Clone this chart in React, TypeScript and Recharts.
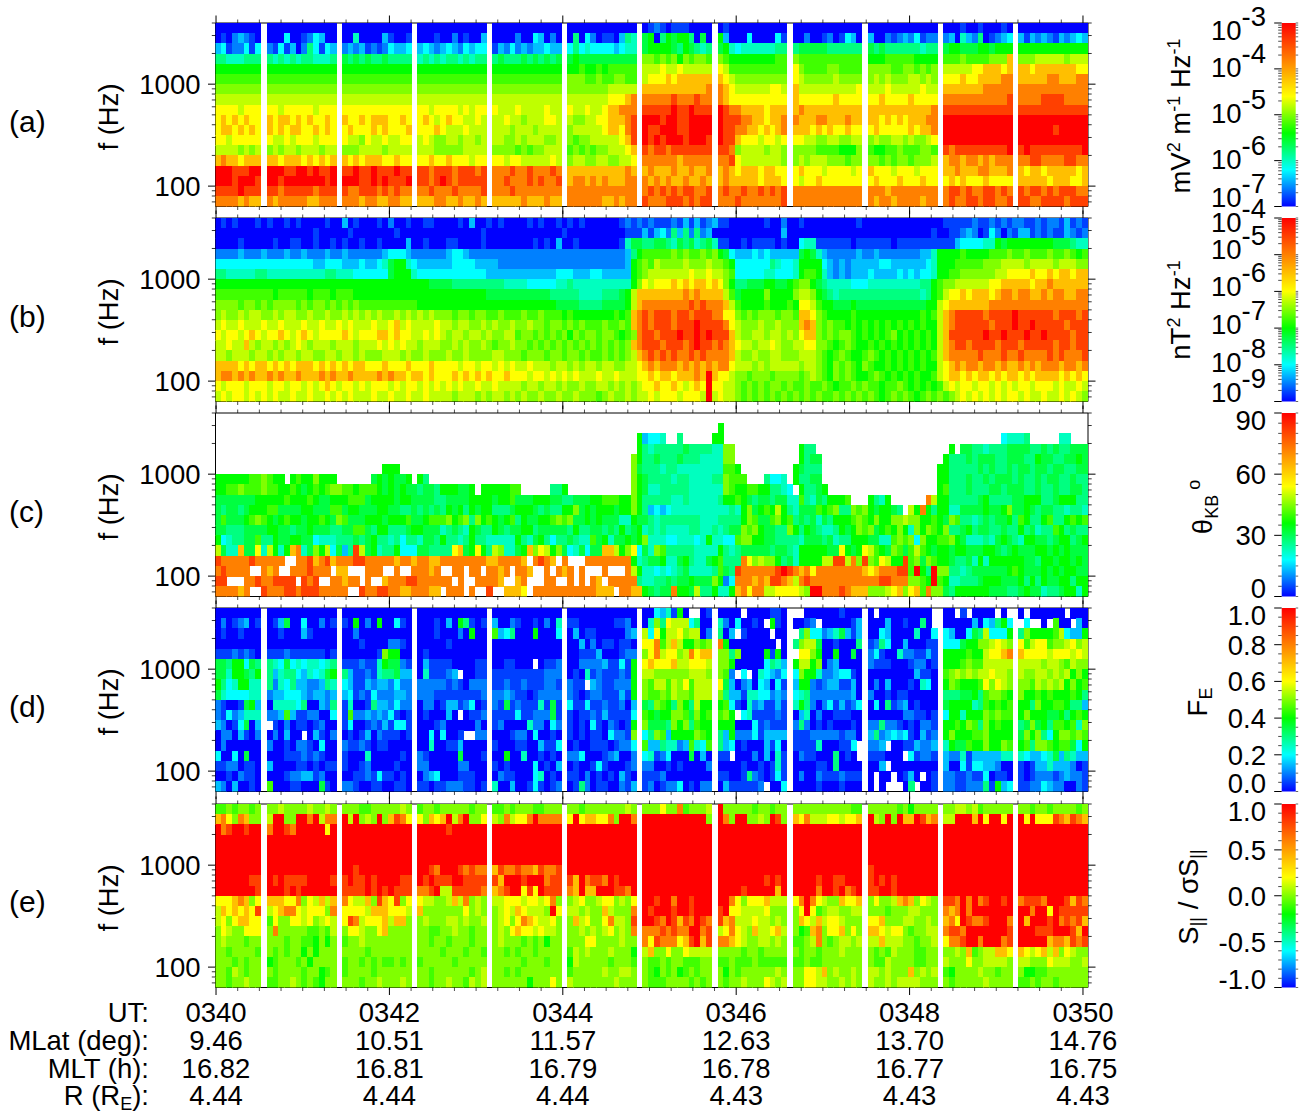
import { ComposedChart, ReferenceArea, Scatter, XAxis, YAxis } from 'recharts'

// frequency bins (Hz), top row first, one tenth of a decade each
const bandCentersHz = [3548, 2818, 2239, 1778, 1413, 1122, 891, 708, 562, 447, 355, 282, 224, 178, 141, 112, 89, 71]

const freqTicks = [70, 80, 90, 100, 200, 300, 400, 500, 600, 700, 800, 900, 1000, 2000, 3000, 3981]
const freqLabels = [100, 1000]

const minuteTicks = [0, 0.25, 0.5, 0.75, 1, 1.25, 1.5, 1.75, 2, 2.25, 2.5, 2.75, 3, 3.25, 3.5, 3.75, 4, 4.25, 4.5, 4.75, 5, 5.25, 5.5, 5.75, 6, 6.25, 6.5, 6.75, 7, 7.25, 7.5, 7.75, 8, 8.25, 8.5, 8.75, 9, 9.25, 9.5, 9.75, 10]
const utLabels = ['0340', '0342', '0344', '0346', '0348', '0350']
const mlatLabels = ['9.46', '10.51', '11.57', '12.63', '13.70', '14.76']
const mltLabels = ['16.82', '16.81', '16.79', '16.78', '16.77', '16.75']
const rLabels = ['4.44', '4.44', '4.44', '4.43', '4.43', '4.43']

// Colour levels per cell: 0-9a-g runs blue -> red, '.' is no data.
// Rows top to bottom, blocks split by the data gaps (or every 13 columns where there are none).
const electricRows = [
  '00000000 000000000000 000000000000 000000000000 000000000000 000000000000 012101110000 010000000000 000000000000 000000000000 000100100010 000000000000',
  '01023210 000400124300 005000031001 000100201003 000020043020 060420110365 780687886070 830004000041 002001201430 300212324122 230532601234 313232132343',
  '34122414 214130264143 232312124334 343234324344 132423233433 464544443455 788887687656 785455555566 677777666666 767666666566 788777887888 888888888888',
  '66555666 656565665556 767676676666 565656656566 676667676767 787777777777 aa9a9a8a9aa9 a98888888899 a99999999999 888999998888 999a9999aaad aaabbbbbabbb',
  '88888888 888888888888 888888888888 888888888888 888888888888 889889899999 bbbcbbcbbbbb cb9999999999 ca9999aa9999 aaaa99aa9a9a bbbbbccdddcd ddcdddddddcc',
  '99999999 999999999999 999999999999 999999999999 999999999999 aaa99a99aa99 bcccdcdddddd dcbaaaaaaaaa cbaaaaabaaaa ababaaabbaba cccdccddddee dddddeedddee',
  'aaaaaaaa aaaaaaaaaaaa aaaaaaaaaaaa aaaaaaaaaaaa aaaaaaaaaaaa aaaaaaabbbbb ddddddddddde edcbbbbbbccb dbbbbbbbbbbc bbbcbbbbbcbb dddddddeeeee eeeeeeeeeeee',
  'bbbbbbbb bbbbbbbbbbbb bbbbbbbbbbbb bbbbbbbbbbbb bbbbbbbbbbbb bbbbbbbcccde eeeeefeeefee edcccccccccc dccccccdcccc ccdccccdcccc eeeeeeeeeeef eeeeffffeeee',
  'ccccbccc ccbcccccbccc cccccccccccc ccbccccbcbcc cbbbcbbbbcbb cbbcbbcddeee fffffgffgfff gfeeddddcddd dedddddddddd ddddddddddde ffffffffffff ffffffffffff',
  'cdcdcdcc dcddcdcdccdc dccdcdddccdc cdcbcdccbbcb bbcbbabbbccb baabbccdddef gggfggffgggg gfffeeddcdde edddeedddedd ddcdcdcdddee gggggggggggg gggggggggggg',
  'cddcdcdc dcdcddccdcdc cdcccdcdcccd cccdcbbbcbbb bbbabbbabbbb abbbbbcddcef gffgggffgggg gffeeddcdcde dddcdcdccdcc cdcccccdcdde gggggggggggg ggggggfggggg',
  'ccbccccc cbbcbcccbccc cbbacbbcbbcc bcbaabbabbab bbaababbbaab a9aabbbbbcdf gfgfgggfgggf gffdcccbccbc ccbbaabbaabb abaabbabaabc gggggggggggg gggggggggggg',
  'bbbbabab ababbabbbabb aaabbbbabbbb bbbaaaaabbbb aaaa9a9aabbb 9a9a9aabbbcd feffefffffff ffeabbbbabba aaaa9999888a 98899a999aa9 fefffffffffg fgfffffffffg',
  'deddcddd ddcdddcdcdcd dcdcdddccdcc ccdccdcccbcc ccbccbbbbbcb abbaabbaabbc eeeeeedeeeee eefcbbbbbbba ababbbaaa9aa aa9a9aa9aaab deedeededeee eeffeeeeffee',
  'gggfffgg gggffggfgffg ffgffgfffgff ffefffefffef eeefeefeeefe dddddddddded dedddeddedde dedcdddcddcc cdcccbccccbc dcccbcccbccc ddedddeeddde dcddcdddddcd',
  'gggfgggf ggfgggggggfg gggffgfgfffg ffefgfefffff eefeeefefeef deedededddee edededdedded dedddddcdddc cbccdccccccc cdcccdcccdcc cdcdcccdcccc dddddcdddccd',
  'ffffgfff ffefffffefff feefffefefee eefeeefeeeef eeefeeeeeeee eeeeeeeeeeee efefefeffeef efeefeefefef eeeeeeeeeeee eeedeeeeeeee effefeeffefe feffefefffee',
  'eeeededd edeeeeeddeee eeedeeddeedd dddeeddedded dddddedddedd eeeeeeddedee feeefffefeff eeefeeeeeeef eeeeeeeeeeee edeedeeeedee efeeffeffeef ffeeffffefff',
]

const magneticRows = [
  '0101000101001 0100001003010 0010200100110 0001030010100 0010100101010 0000012121211 1213131231100 0000100200100 0000000100000 0000000001111 1211212122112 12213121',
  '0000000000000 0000100000100 0000010000000 0000000100000 0000000010000 0000001113134 2636262300000 0000000300000 0000000000000 0000000100112 3201420213312 12113212',
  '0000100000100 1100100101001 0010000300100 0110000100000 0001010300100 0000015776677 6576756751100 1011110100455 1111110111111 0111111111134 4445587888888 88777655',
  '2222322232223 2232223223222 2223444322222 2344322222222 2222222222222 2222223689999 9a9a99a9a8743 3343433333787 5322222322322 2222233588889 8888999a99a99 9a99a989',
  '4444444444444 4444334443334 3345788543333 3344443333222 2222222222222 222222389a9ba aaabaaabaa984 4444465445888 8432323333344 3333334588899 999aaabbbbabb bbabbbaa',
  '6655555665555 5555556655544 4444788854444 4444444433333 3333333444333 443333389abbb bbbbcbbcbba94 4444554445899 8532323334333 343434458899a aaaaabbccccdc cdcddcdd',
  '8888888888888 8888888888888 8888888888877 7766666666655 5544444556555 55555558acbcc cdcdcddcdca86 6777887789aa8 7655554445555 555556689aabb bbbbccdddddcd dedddddd',
  '9999999999899 9998999899988 8888888888888 8888888877777 7777776666655 5566678bddddd dddededdddb97 8888a8888abba 8765666666666 666665689bccd cdddcdeedeedd edeeddee',
  'aaaa9aa9a9aaa a9a9aa9a9a9a9 9999999998888 8888888888888 8888888777766 6677778bdeeee eeeefefeeedb9 8888988898ccb 9887778777777 77777788bcddd ddddeeeeeeeee eeeeeeee',
  'abaababbaabab baabaabaababa babaababababa aa9aa9aa99a99 9a99a99989888 8888989defeff feffefffeecca 9a9aaa9aa9ddc a988889888888 88888989bdeff fffeffffgffff ffefffef',
  'bcbbcbbbcbbcb bbcbbcbbcbcbb bcbbcdbcbbbbc bbabbaababaab aabaa9aa9a9a9 99a99a9defeff fefffgffffecb aaabaabaaaded a9a9989898989 89898988bdeff ffffefffgffgf ffffefff',
  'cbccbcdcbccdc bcdcbccccdcbc ccddcdccbbcbc babbabbabaabb 9aa9a9a9a8a9a a9aa989aeffef ffgffgfgfffdb aabbabbabacdd a9a9aa9898989 a8989898bdfff fffgffgfffgff gffffeff',
  'bbcbbdbabbaba bcbabbbabbbab bbcbcbcbbabbb aababaaba9aab aa9a9a9a9a9a9 a9a9a9adefffe fffefgffefedc bbabbcbaabbcc aa989a9889898 98989898bdeff effffefffefff ffeffeff',
  'bbabbbabbabab babbaabbabbab aaabbbabaabaa abaabaaaabbaa a9aaa9aa9aa9a 99a9a9abdefef efeefefeeeedb aabaabbaaabbb a989a9889a989 89898989bdeee eefeeefeefeee efefeeef',
  'ddddcdcddcdcd cdddcdcdcdcdd cccdcccdcccdc cccbccbccbcbc bbcbbbabbabab babbaabbcdede eededededeecb bbababbbbbabb a98a9a98a9889 89898988bcded eedeededdeded eeedeede',
  'deedededdeded dedddededdedd ddededdcddcdc ccdcdcdcdccdc ccbccbcbcbcbb bcbbcbbbccdcd dcdddedgdccba a9aaa9aaaa9ab a98a9a9889a98 98989889bcddc dcddcdcddcdcd dddcdcdc',
  'cbcccbcccbccb ccbcbcdcbccbc bcccbcbccbcbc bcbcbbcbbcbbb babbabbabaaba abbabababccdc cdcbcdcgccbba 9a9a9aa9a99a9 9a9899a9a9989 9a9898989bcbc cbccbcbcbccbc ccbcbbcb',
  'bcbccbcbcbcbb cbbcbbcbcbcbb bcbbcbbcbbcbb bbabbbababbab abaabaabaabaa a9abaababbcbc ccbcccbgbcbba 9a9a9a9a9a9a9 a99a9a9a9a989 a9a989a9a9abc bcbcbcbccbcbb cbbcbcba',
]

const waveAngleRows = [
  '............. ............. ............. ............. ............. ............. ............. ............. ............. ............. ............. ........',
  '............. ............. ............. ............. ............. ............. .........8... ............. ............. ............. ............. ........',
  '............. ............. ............. ............. ............. ........83445 ..6.....88... ............. ............. ............. ......45556.. ...55...',
  '............. ............. ............. ............. ............. ........86566 6667666655aa. ..........866 ............. ..........8.7 7665666777766 76766777',
  '............. ............. ............. ............. ............. .......a86676 6676665555aa. ..........867 7............ .........8666 7677766777668 77667787',
  '............. ............. ...888....... ............. ............. .......a76665 6655555555998 .........8766 6............ ........88666 6676766767767 76776677',
  '88888899a988. 8988a888..... .7878778.86.. ............. ............. .......a87666 6566555566a99 9...6445.8667 7............ ........88666 7667677767667 67766766',
  '8899a999a9988 9878989aa9989 9987878776776 888778.888889 9.....668.... .......a87556 6666555555a98 899886654.866 78........... ........89666 7666776777667 66766776',
  '7777777888889 8889877888999 7888878877776 6777788887889 7778887766777 8899988a86666 6556555556889 8767767755965 768889...8658 ......eb88666 6678666677888 66788866',
  '7677678889977 7788777997887 7788776676767 6878687886667 8887676688a78 7888788a86343 4555555555565 8a7898b865777 989a66a9a8788 76.b8e8688557 7778778a77876 77665665',
  '7977789a98789 88788987a9777 8887888977899 9a89a6a898789 6877889a9a778 7877755877656 6666665556666 8a9779a896767 5768889a98a88 aabaa88987a96 6567677869866 89668989',
  '7766677778877 6778777667799 7688666788777 5676587668767 7886777776866 7767686785656 5555665565677 a9a87766a8687 6556878a9a789 8a85a8a98a667 8677667668675 66986766',
  '8456677966877 8877455566676 7866564665776 8665686655555 8657864667655 978577878a555 4455545855449 aa88776666577 7675668887755 9a9a4a8899a87 5556578765887 76788678',
  'b755d77c5b858 de57a8b4736fb 7856684447766 66cd78c86ba55 78dacb8a74574 77ddb8ac475a9 6666655558656 7777767765888 8877c878cb987 a979b98788788 7778876787778 87878777',
  'feeeeefeeeee. .eefdefdeeeff eeeeedeedeedd eeeeeeeeddeee ed.efed.e...e eeeeeee856778 5578655789666 ecabaa8675888 8bbffbeafa9cb 88f9a7a988766 7585888888776 88788787',
  'efeeee..ede.. eeefeee.dd... eee..e..eeede ..ee.ee.eede. eed..e.ede.e. ..e...eb85545 456755556976f eeeeeefgfedec eeeeeeeedcdee eff9g86gaa665 6777777898777 87878877',
  'ff...eefeefff f.fef..eedee. e..deeeffeeee ee.e..eeeed.. de...ee..e.e. ed.eeeee65566 76778777a824e eededffedbefe eeeeeeeeeeeff eeeaa98g98556 6678887778686 87788688',
  'eeeede..feeef fefffeeeee..f eeffeeddeeedd .eee.e..f..dd dc.eeeeeeeeee eddd.eedd8767 7e887b668558d eceebbccccbag geeefedddaaab cdacd9eaa7688 8888777667877 56678858',
]

const energyFractionRows = [
  '00000000 000000000000 000000000000 000000000000 000000000000 000000000000 00435180..01 0000.0000110 ..0000001000 0.000000000. 00.1.0000.0. 0.000000.000',
  '02012301 013700400201 108020800410 000103086101 300210010205 110000001120 05a6cbbb4600 52040010.810 0012.0000013 00030010060. 000003043684 .4..0.900.30',
  '01001000 001000310000 002000000000 000100020800 934600080004 030110000023 b4c8bbcabb02 603.10000.00 .6a442357313 004300005004 4300476b4448 6a88889b4338',
  '00000000 000000000000 000100002210 000001000000 000000000000 003020110110 cce9bdb88a9a e800000000.0 6abb70010006 126400300011 444788aabcba c9bcc9aabcab',
  '11121210 111211111101 0000001a8800 010000000000 000000000000 001113000122 acebccabecdd aa6a00008180 .cca80080070 241005221131 8888988bccde dccccbcccbcb',
  '77688476 654745455456 111211587721 031111000011 0011000.0112 002222311418 cdcccdbbcccb aa8000004653 8bb8a0230000 211100012201 8889a99bbbbb bbbbabba9baa',
  '77588768 635664354578 631121566733 0511123.0011 111111111222 010512111218 bbaaaaaabbba a92.4.054324 4a8852234410 000000003110 9abababbcbba baabbabab8a8',
  '86458855 625463322365 431132332422 222221210222 112112111221 211.32112228 a9bb9bac9bbb c73023043041 388212331130 020300010540 8a98889cacba aa9babab8a89',
  '75444455 233444323323 341214222332 222111111112 223211012222 210122111318 a99a9baa9bbb a63315544232 456222222230 200101100000 66677869aa98 a88989888986',
  '21001783 055554600326 150016332422 022013312401 217121115171 411411211203 76a986a86b88 894105231131 586202413124 040612301000 788885698989 886a88998663',
  '21423555 223931122004 192232324101 0100030.0112 111141122271 101121311114 98788aa97a89 9a8.45111121 035020011100 000000221101 4885888a9a99 8a8887786898',
  '32014703 .102011012006 140012131441 000120000020 120000522042 101041021018 a7776a8a6988 888000412111 262010100010 226221010221 8898a96a8988 67a78699895a',
  '02203102 020300.03102 010130211101 00404001..22 000122040010 10101104221a 46a938888a98 638222413333 111222221220 362343410312 8a88899a8888 7a8a648aa9a9',
  '02000000 200102210400 211210110000 005001130000 100011003114 010011101224 933655239549 634010003140 11115000114. 223.00113223 5877988a88a9 896aa9899748',
  '40040700 000111212100 100050000010 210000070001 008005001010 224000123002 451240007030 11.000203051 02110006010. 111000.41221 322513333355 543345736533',
  '11220110 300001101011 100120000100 220000022000 101000040103 010014100012 220010100002 000010010151 000011060000 003.00000000 300414433200 101335333201',
  '00102110 000122331200 001121411010 023400011100 021100045010 110201010310 111200000000 110016210141 020021112111 0.00.0130.01 221121140110 101222123221',
  '32030010 900011000710 221001100110 110112221101 500300141012 016201100213 120122401022 03111112.004 000010001000 0.0...06.001 221122261834 112243220021',
]

const allRedRow = 'gggggggg gggggggggggg gggggggggggg gggggggggggg gggggggggggg gggggggggggg gggggggggggg gggggggggggg gggggggggggg gggggggggggg gggggggggggg gggggggggggg'

const poyntingRows = [
  '99a9aa9a aabaaaabaaba aaa99aaaaaba 9aa9aaaaa9aa 99a9aaa99aaa aa9aaaaaaaba aaacaae9aaab gaaaaa9aa9aa aaaaaaaaaa99 aaaaa9a8aaaa aabbab9aaaaa aa9aa9aaaa9a',
  'decaedaa bggaaggegbee gbgabagadfec cadcdgbegaac baebccegeeee cgcddcceagge ggggggggggga geaggaabagfa dcebbbccbccd gbagagddgfde bbgggdgcggcg gcgcccfedfed',
  'gefggfgg eggfegggggcg gggggggggggg gggggfgggggg gggggggggggg gggggggggggg gggggggggggg gggggggggggg gggggggggggg gggggggggggg gggggggggggg gggggggggggg',
  allRedRow,
  allRedRow,
  allRedRow,
  'gggggggg gggggggggggg ggfggggggggg ggfegggfefee dfeefeedfeef gggggggggggg gggggggggggg gggggggggggg gggggggggggg fggggggggggg gggggggggggg gggggggggggg',
  'ggggggff gfgffffggggf fgffgfggggff gfgfffggffff fdgggfgggeff fdgeffegfggg gggggggggggg ggggggggfgfg ggggfggffggg fgfgfggggggg gggggggggggg gggggggggggg',
  'gggggggf gggfgfgggggg ffffgfgfgfff eefgbbfffffe defggcfcgfff edgddgggffeg gggggggggggg ggggfgggggdg ggggeggfgefg ffggfggggggg gggggggggggg gggggggggggg',
  'cccdedac dddcceacbdbd ecbbdafdcfac cbbaabdbeaba bbcccbccbcea abcaabccabac ggfggeggfggg ggecacccdbbb cegecbaadccd acaabdedacba ffegegefggfg efffegggfdfe',
  'bdcdcdcf bcdeecbcccae ccccbdddcccb daaaaaaacaba abcbdcbbbagc bbabaadbaaae gfgggfggfggg fgccbbbbcaaa acgc9abbaabb aaa9aaabbaaa edegeggggggg ggeggcgfffff',
  'bcacddcc 9caaccbcabcb cfebcccdbdda abaaabbabaab abcacedcbbca adbcaacebbaf ggfegfdfegfe fdebbbcbbaba adcbdbccbaaa ccdaaabbaaba decgfeefggge gdgggfgefefd',
  'acbaaccc aeaaaaa99a9b accbaacdaaaa aa99aabaa9aa abacdccbcbba aabababcabae eeefefeeggef bcecbadbbcdb a89deaccdaca ddcbcca9aabb effegggggggf gggfffgggfdg',
  'abaaa9aa aaa9aa998a8a 9aabaaaaaaaa aa9aa9aaa9aa abaaa9a9a8aa aaaccaaaabaa ecfeeecdfgdf eedcbaabbaba 99abea9abbab bbdbbbaa9aab ceefggegggef gggggdeedfef',
  'aa9aaaa9 a9a9aa8a8aaa aaaa9aaaaaaa aaaa9aaa9aa9 aa9a9aa9aaaa 9babaaabaaa8 bdaacaacbbbb aaaa9aa9aaaa a9aa9aaabaaa a9a9baaa99aa aabad9abbddc dcbcdbdacbaa',
  'aaa9a9aa 89aaa9a8aaaa 9aa9a9a99a9a 9aaaaa9aaaaa aaaaa9aaa9aa 8baaaaa9aaa9 a99a9aa999aa 99a999a99999 99a99aaaaaaa a99baaaa99aa baaacaabbbba bbaaacbbbaab',
  'aa9ba9aa a9aaaa9aa89a 9aaaa9aaaaaa aa9aaaaaa9ab aa9a9aaaaaaa 9aaaaabaabba a98a9a89a9aa a8a9aaaaaaba aaccbdabaaba bbabaaadabab 98aaaabaa9aa a8899aaaaaaa',
  'aa9aabaa 99aaba9a98aa aaa9aabaaaba aa9aabaa9bab aaaaaa8aaaca baaaaaaabaaa a999aaaa9a9a a9aabaaacbab aaccbbaababa baababbbbaaa a9aaaaabaaaa 99a9aa9aaaaa',
]

// colour bars
const rainbowStops = ['#0000ff', '#0080ff', '#00ffff', '#00ff80', '#00ff00', '#80ff00', '#ffff00', '#ffbf00', '#ff8000', '#ff4000', '#ff0000']
const barSpan = [{ x: 0 }, { x: 1 }]
const electricTicks = [1e-7, 2e-7, 3e-7, 4e-7, 5e-7, 6e-7, 7e-7, 8e-7, 9e-7, 1e-6, 2e-6, 3e-6, 4e-6, 5e-6, 6e-6, 7e-6, 8e-6, 9e-6, 1e-5, 2e-5, 3e-5, 4e-5, 5e-5, 6e-5, 7e-5, 8e-5, 9e-5, 1e-4, 2e-4, 3e-4, 4e-4, 5e-4, 6e-4, 7e-4, 8e-4, 9e-4, 1e-3]
const magneticTicks = [1e-9, 2e-9, 3e-9, 4e-9, 5e-9, 6e-9, 7e-9, 8e-9, 9e-9, 1e-8, 2e-8, 3e-8, 4e-8, 5e-8, 6e-8, 7e-8, 8e-8, 9e-8, 1e-7, 2e-7, 3e-7, 4e-7, 5e-7, 6e-7, 7e-7, 8e-7, 9e-7, 1e-6, 2e-6, 3e-6, 4e-6, 5e-6, 6e-6, 7e-6, 8e-6, 9e-6, 1e-5, 2e-5, 3e-5, 4e-5, 5e-5, 6e-5, 7e-5, 8e-5, 9e-5, 1e-4]
const angleTicks = [0, 5, 10, 15, 20, 25, 30, 35, 40, 45, 50, 55, 60, 65, 70, 75, 80, 85, 90]
const fractionTicks = [0, 0.05, 0.1, 0.15, 0.2, 0.25, 0.3, 0.35, 0.4, 0.45, 0.5, 0.55, 0.6, 0.65, 0.7, 0.75, 0.8, 0.85, 0.9, 0.95, 1]
const poyntingTicks = [-1, -0.9, -0.8, -0.7, -0.6, -0.5, -0.4, -0.3, -0.2, -0.1, 0, 0.1, 0.2, 0.3, 0.4, 0.5, 0.6, 0.7, 0.8, 0.9, 1]

const electricLabels = [
  { value: 1e-3, text: '10', exp: '-3', shift: 17 },
  { value: 1e-4, text: '10', exp: '-4', shift: 8 },
  { value: 1e-5, text: '10', exp: '-5', shift: 8 },
  { value: 1e-6, text: '10', exp: '-6', shift: 8 },
  { value: 1e-7, text: '10', exp: '-7', shift: 0 },
]
const magneticLabels = [
  { value: 1e-4, text: '10', exp: '-4', shift: 14 },
  { value: 1e-5, text: '10', exp: '-5', shift: 4 },
  { value: 1e-6, text: '10', exp: '-6', shift: 5 },
  { value: 1e-7, text: '10', exp: '-7', shift: 6 },
  { value: 1e-8, text: '10', exp: '-8', shift: 7 },
  { value: 1e-9, text: '10', exp: '-9', shift: 0 },
]
const angleLabels = [
  { value: 90, text: '90', shift: 17 },
  { value: 60, text: '60', shift: 10 },
  { value: 30, text: '30', shift: 10 },
  { value: 0, text: '0', shift: 1 },
]
const fractionLabels = [
  { value: 1, text: '1.0', shift: 17 },
  { value: 0.8, text: '0.8', shift: 10 },
  { value: 0.6, text: '0.6', shift: 10 },
  { value: 0.4, text: '0.4', shift: 10 },
  { value: 0.2, text: '0.2', shift: 10 },
  { value: 0, text: '0.0', shift: 1 },
]
const poyntingLabels = [
  { value: 1, text: '1.0', shift: 17 },
  { value: 0.5, text: '0.5', shift: 10 },
  { value: 0, text: '0.0', shift: 10 },
  { value: -0.5, text: '-0.5', shift: 10 },
  { value: -1, text: '-1.0', shift: 1 },
]

const FONT = '"Liberation Sans", Arial, sans-serif'
const FS = 27.5
const PLOT_W = 872.5
const PLOT_H = 183.5
const LEFT_W = 215.5
const RIGHT_W = 45
const TIME_DOMAIN = [-0.006, 10.058]
const CELL_W = (PLOT_W / (TIME_DOMAIN[1] - TIME_DOMAIN[0])) / 15
const CELL_H = PLOT_H / 18

function levelColor(level: number) {
  return `hsl(${240 - 15 * level}, 100%, 50%)`
}

function toCells(rows: string[], gapped: boolean) {
  const cells: { t: number; f: number; level: number }[] = []
  rows.forEach((row, r) => {
    const blocks = row.split(' ')
    const sized = blocks.map((b, i) => {
      const size = gapped ? (i === 0 ? 8 : 12) : i === 11 ? 8 : 13
      return b.padEnd(size, b[b.length - 1]).slice(0, size)
    })
    const line = sized.join(gapped ? '.' : '')
    for (let c = 0; c < line.length; c++) {
      if (line[c] === '.') continue
      cells.push({ t: (c + 0.5) / 15 - 0.0144, f: bandCentersHz[r], level: parseInt(line[c], 17) })
    }
  })
  return cells
}

function CellShape(props: any) {
  return (
    <rect
      x={props.cx - CELL_W / 2}
      y={props.cy - CELL_H / 2}
      width={CELL_W + 0.4}
      height={CELL_H + 0.4}
      fill={levelColor(props.payload.level)}
      shapeRendering="crispEdges"
    />
  )
}

function FreqTick({ x, y, payload, side }: any) {
  const major = payload.value === 100 || payload.value === 1000
  const len = major ? 7.5 : 3.7
  const dir = side === 'left' ? -1 : 1
  return (
    <g>
      <line x1={x} x2={x + dir * len} y1={y} y2={y} stroke="#000" strokeWidth={major ? 1 : 0.8} />
      {side === 'left' && freqLabels.includes(payload.value) && (
        <text x={x - 15} y={y + 9.5} textAnchor="end" fontSize={FS} fontFamily={FONT} fill="#000">
          {payload.value}
        </text>
      )}
    </g>
  )
}

function TimeTick({ x, y, payload, side, labelled }: any) {
  const major = payload.value % 2 === 0
  const len = major ? 7.5 : 3.5
  const dir = side === 'top' ? -1 : 1
  const i = payload.value / 2
  return (
    <g>
      <line x1={x} x2={x} y1={y} y2={y + dir * len} stroke="#000" strokeWidth={major ? 1 : 0.7} />
      {labelled && major && (
        <g fontSize={FS} fontFamily={FONT} fill="#000" textAnchor="middle">
          <text x={x} y={y + 34.5}>{utLabels[i]}</text>
          <text x={x} y={y + 62.5}>{mlatLabels[i]}</text>
          <text x={x} y={y + 90.5}>{mltLabels[i]}</text>
          <text x={x} y={y + 117.5}>{rLabels[i]}</text>
        </g>
      )}
    </g>
  )
}

function Panel({ rows, top, gapped, labelled }: { rows: string[]; top: number; gapped: boolean; labelled?: boolean }) {
  const bottomH = labelled ? 1112 - (top + PLOT_H) : 10
  const data = toCells(rows, gapped)
  return (
    <div style={{ position: 'absolute', left: 0, top: top - 10 }}>
      <ComposedChart
        width={LEFT_W + PLOT_W + RIGHT_W}
        height={10 + PLOT_H + bottomH}
        margin={{ top: 0, right: 0, bottom: 0, left: 0 }}
        data={data}
      >
        <XAxis
          xAxisId="bottom"
          dataKey="t"
          type="number"
          domain={TIME_DOMAIN}
          allowDataOverflow
          ticks={minuteTicks}
          interval={0}
          height={bottomH}
          tickSize={0}
          tickMargin={0}
          tickLine={false}
          axisLine={{ stroke: '#000', strokeWidth: 1 }}
          tick={<TimeTick side="bottom" labelled={labelled} />}
        />
        <XAxis
          xAxisId="top"
          orientation="top"
          dataKey="t"
          type="number"
          domain={TIME_DOMAIN}
          allowDataOverflow
          ticks={minuteTicks}
          interval={0}
          height={10}
          tickSize={0}
          tickMargin={0}
          tickLine={false}
          axisLine={{ stroke: '#000', strokeWidth: 1 }}
          tick={<TimeTick side="top" />}
        />
        <YAxis
          yAxisId="left"
          dataKey="f"
          type="number"
          scale="log"
          domain={[63.1, 3981]}
          allowDataOverflow
          ticks={freqTicks}
          interval={0}
          width={LEFT_W}
          tickSize={0}
          tickMargin={0}
          tickLine={false}
          axisLine={{ stroke: '#000', strokeWidth: 1 }}
          tick={<FreqTick side="left" />}
        />
        <YAxis
          yAxisId="right"
          orientation="right"
          type="number"
          scale="log"
          domain={[63.1, 3981]}
          allowDataOverflow
          ticks={freqTicks}
          interval={0}
          width={RIGHT_W}
          tickSize={0}
          tickMargin={0}
          tickLine={false}
          axisLine={{ stroke: '#000', strokeWidth: 1 }}
          tick={<FreqTick side="right" />}
        />
        <Scatter
          xAxisId="bottom"
          yAxisId="left"
          data={data}
          dataKey="f"
          isAnimationActive={false}
          shape={<CellShape />}
        />
      </ComposedChart>
    </div>
  )
}

function BarTick({ x, y, payload, side, labels }: any) {
  const label = labels?.find((l: any) => l.value === payload.value)
  if (side === 'right') {
    return <line x1={x} x2={x + 2.5} y1={y} y2={y} stroke="#000" strokeWidth={0.6} />
  }
  return (
    <g>
      <line x1={x} x2={x - (label ? 7.5 : 3.5)} y1={y} y2={y} stroke="#000" strokeWidth={label ? 1 : 0.7} />
      {label && (
        <text x={x - 15.7} y={y + label.shift} textAnchor="end" fontSize={FS} fontFamily={FONT} fill="#000">
          {label.text}
          {label.exp && <tspan dy={-14}>{label.exp}</tspan>}
        </text>
      )}
    </g>
  )
}

function ColorBar({ id, top, ticks, domain, labels, log }: any) {
  return (
    <div style={{ position: 'absolute', left: 1130, top: top - 20 }}>
      <ComposedChart width={170} height={20 + PLOT_H + 10} margin={{ top: 20, right: 0, bottom: 10, left: 0 }} data={barSpan}>
        <defs>
          <linearGradient id={id} x1="0" y1="1" x2="0" y2="0">
            {rainbowStops.map((c, i) => (
              <stop key={c} offset={i / (rainbowStops.length - 1)} stopColor={c} />
            ))}
          </linearGradient>
        </defs>
        <XAxis hide dataKey="x" type="number" domain={[0, 1]} allowDataOverflow xAxisId="bar" height={0} />
        <YAxis
          yAxisId="left"
          type="number"
          scale={log ? 'log' : 'linear'}
          domain={domain}
          allowDataOverflow
          ticks={ticks}
          interval={0}
          width={151.7}
          tickSize={0}
          tickMargin={0}
          tickLine={false}
          axisLine={false}
          tick={<BarTick side="left" labels={labels} />}
        />
        <YAxis
          yAxisId="right"
          orientation="right"
          type="number"
          scale={log ? 'log' : 'linear'}
          domain={domain}
          allowDataOverflow
          ticks={ticks}
          interval={0}
          width={4.3}
          tickSize={0}
          tickMargin={0}
          tickLine={false}
          axisLine={false}
          tick={<BarTick side="right" />}
        />
        <ReferenceArea
          xAxisId="bar"
          yAxisId="left"
          x1={0}
          x2={1}
          y1={domain[0]}
          y2={domain[1]}
          fill={`url(#${id})`}
          fillOpacity={1}
          stroke="none"
          ifOverflow="visible"
        />
      </ComposedChart>
    </div>
  )
}

const panelLabels = [
  { text: '(a)', y: 132 },
  { text: '(b)', y: 327 },
  { text: '(c)', y: 522 },
  { text: '(d)', y: 717 },
  { text: '(e)', y: 912 },
]
const freqTitleCenters = [117, 312, 507, 702, 898]

function RotatedTitle({ x, y, children }: any) {
  return (
    <text transform={`translate(${x} ${y}) rotate(-90)`} textAnchor="middle" fontSize={FS} fontFamily={FONT} fill="#000">
      {children}
    </text>
  )
}

export default function App() {
  return (
    <div style={{ position: 'absolute', left: 0, top: 0, width: 1300, height: 1112, background: '#fff', overflow: 'hidden' }}>
      <Panel rows={electricRows} top={22.7} gapped />
      <Panel rows={magneticRows} top={218} gapped={false} />
      <Panel rows={waveAngleRows} top={413.3} gapped={false} />
      <Panel rows={energyFractionRows} top={608} gapped />
      <Panel rows={poyntingRows} top={804} gapped labelled />

      <ColorBar id="barE" top={22.7} ticks={electricTicks} domain={[1e-7, 1e-3]} labels={electricLabels} log />
      <ColorBar id="barB" top={218} ticks={magneticTicks} domain={[1e-9, 1e-4]} labels={magneticLabels} log />
      <ColorBar id="barA" top={413.3} ticks={angleTicks} domain={[0, 90]} labels={angleLabels} />
      <ColorBar id="barF" top={608} ticks={fractionTicks} domain={[0, 1]} labels={fractionLabels} />
      <ColorBar id="barS" top={804} ticks={poyntingTicks} domain={[-1, 1]} labels={poyntingLabels} />

      <svg width={1300} height={1112} style={{ position: 'absolute', left: 0, top: 0, pointerEvents: 'none' }}>
        {panelLabels.map((p) => (
          <text key={p.text} x={9} y={p.y} fontSize={30} fontFamily={FONT} fill="#000">
            {p.text}
          </text>
        ))}
        {freqTitleCenters.map((y) => (
          <RotatedTitle key={y} x={118} y={y}>f (Hz)</RotatedTitle>
        ))}
        <g fontSize={FS} fontFamily={FONT} fill="#000" textAnchor="end">
          <text x={149} y={1022}>UT:</text>
          <text x={149} y={1050}>MLat (deg):</text>
          <text x={149} y={1078}>MLT (h):</text>
          <text x={149} y={1105}>
            R (R<tspan fontSize={18} dy={5}>E</tspan><tspan dy={-5}>):</tspan>
          </text>
        </g>
        <RotatedTitle x={1190} y={116}>
          mV<tspan fontSize={18} dy={-10}>2</tspan><tspan dy={10}> m</tspan>
          <tspan fontSize={18} dy={-10}>-1</tspan><tspan dy={10}> Hz</tspan>
          <tspan fontSize={18} dy={-10}>-1</tspan>
        </RotatedTitle>
        <RotatedTitle x={1190} y={310}>
          nT<tspan fontSize={18} dy={-10}>2</tspan><tspan dy={10}> Hz</tspan>
          <tspan fontSize={18} dy={-10}>-1</tspan>
        </RotatedTitle>
        <RotatedTitle x={1212} y={507}>
          θ<tspan fontSize={18} dy={6}>KB</tspan><tspan fontSize={18} dy={-18}> o</tspan>
        </RotatedTitle>
        <RotatedTitle x={1207} y={702}>
          F<tspan fontSize={18} dy={5}>E</tspan>
        </RotatedTitle>
        <RotatedTitle x={1198} y={897}>
          S<tspan fontSize={18} dy={5}>||</tspan><tspan dy={-5}> / σS</tspan><tspan fontSize={18} dy={5}>||</tspan>
        </RotatedTitle>
      </svg>
    </div>
  )
}
